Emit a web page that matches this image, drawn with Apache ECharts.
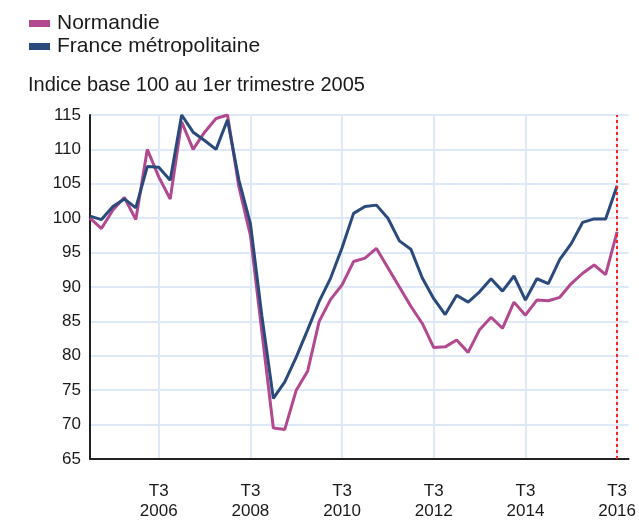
<!DOCTYPE html>
<html>
<head>
	<meta charset="utf-8">
	<title>Indice base 100</title>
	<script src="https://cdn.jsdelivr.net/npm/echarts@6/dist/echarts.min.js"></script>
	<style>
		body { margin: 0; background: #fff; }
		#chart { width: 639px; height: 521px; }
	</style>
</head>
<body>
	<div id="chart"></div>
	<script type="text/javascript">
		// trimestres T1 2005 .. T4 2016
		var years = [2005, 2006, 2007, 2008, 2009, 2010, 2011, 2012, 2013, 2014, 2015, 2016]
		var quarters = ['T1', 'T2', 'T3', 'T4']
		// graduations de l'axe vertical
		var yTicks = { min: 65, max: 115, step: 5 }
		// Normandie
		var normandie = [100, 98.5, 101.2, 103, 99.8, 110, 106, 102.8, 114, 110,
			112.5, 114.5, 115, 104.5, 97.5, 83.5, 69.5, 69.3, 75, 77.8,
			85, 88.2, 90.3, 93.7, 94.2, 95.6, 92.8, 90, 87.2, 84.7,
			81.2, 81.3, 82.3, 80.5, 83.8, 85.6, 84, 87.8, 85.9, 88.1,
			88, 88.5, 90.5, 92, 93.2, 91.8, 98]
		// France métropolitaine
		var france = [100.3, 99.8, 101.7, 102.8, 101.5, 107.5, 107.4, 105.5, 115, 112.5,
			111.3, 110, 114.3, 105.5, 99.2, 85.8, 73.8, 76.2, 79.8, 83.8,
			87.9, 91.3, 95.7, 100.7, 101.7, 101.9, 100, 96.7, 95.5, 91.3,
			88.3, 86, 88.8, 87.8, 89.3, 91.2, 89.4, 91.6, 88.1, 91.2,
			90.5, 94, 96.3, 99.4, 99.9, 99.9, 104.7]
		var lastQuarter = 'T3 2016'

		var categories = []
		years.forEach(function (y) {
			quarters.forEach(function (q) { categories.push(q + ' ' + y) })
		})

		// seulement les T3 des années paires
		function isMarked(i) {
			var parts = categories[i].split(' ')
			return parts[0] === 'T3' && (+parts[1]) % 2 === 0
		}

		var font = '"Liberation Sans", Arial, sans-serif'
		var chart = echarts.init(document.getElementById('chart'))

		chart.setOption({
			animation: false,
			title: {
				text: 'Indice base 100 au 1er trimestre 2005',
				left: 23,
				top: 70,
				textStyle: { fontFamily: font, fontSize: 20, fontWeight: 'normal', color: '#1a1a1a' }
			},
			legend: {
				orient: 'vertical',
				left: 29,
				top: 13,
				padding: 0,
				icon: 'rect',
				itemWidth: 21,
				itemHeight: 7,
				itemGap: 2,
				textStyle: { fontFamily: font, fontSize: 21, color: '#1a1a1a', padding: [0, 0, 0, 2] }
			},
			grid: { left: 90, top: 115, right: 7, bottom: 59 },
			xAxis: {
				type: 'category',
				data: categories,
				boundaryGap: false,
				axisLine: { lineStyle: { color: '#222', width: 2 } },
				axisTick: { show: false },
				axisLabel: {
					interval: function (i) { return isMarked(i) },
					formatter: function (v) { return v.replace(' ', '\n') },
					fontFamily: font,
					fontSize: 17,
					color: '#1a1a1a',
					lineHeight: 20,
					margin: 22
				},
				splitLine: {
					show: true,
					interval: function (i) { return isMarked(i) },
					lineStyle: { color: '#dde9f8', width: 2 }
				}
			},
			yAxis: {
				type: 'value',
				min: yTicks.min,
				max: yTicks.max,
				interval: yTicks.step,
				axisLine: { show: true, lineStyle: { color: '#222', width: 2 } },
				axisTick: { show: false },
				axisLabel: { fontFamily: font, fontSize: 17, color: '#1a1a1a', margin: 9 },
				splitLine: { lineStyle: { color: '#dde9f8', width: 2 } }
			},
			series: [
				{
					name: 'Normandie',
					type: 'line',
					data: normandie,
					symbol: 'none',
					color: '#b2488f',
					lineStyle: { width: 3 }
				},
				{
					name: 'France métropolitaine',
					type: 'line',
					data: france,
					symbol: 'none',
					color: '#2b4a7c',
					lineStyle: { width: 3 },
					markLine: {
						symbol: 'none',
						silent: true,
						label: { show: false },
						lineStyle: { color: '#ff2020', type: [3, 3], width: 2 },
						data: [{ xAxis: lastQuarter }]
					}
				}
			]
		})
	</script>
</body>
</html>
